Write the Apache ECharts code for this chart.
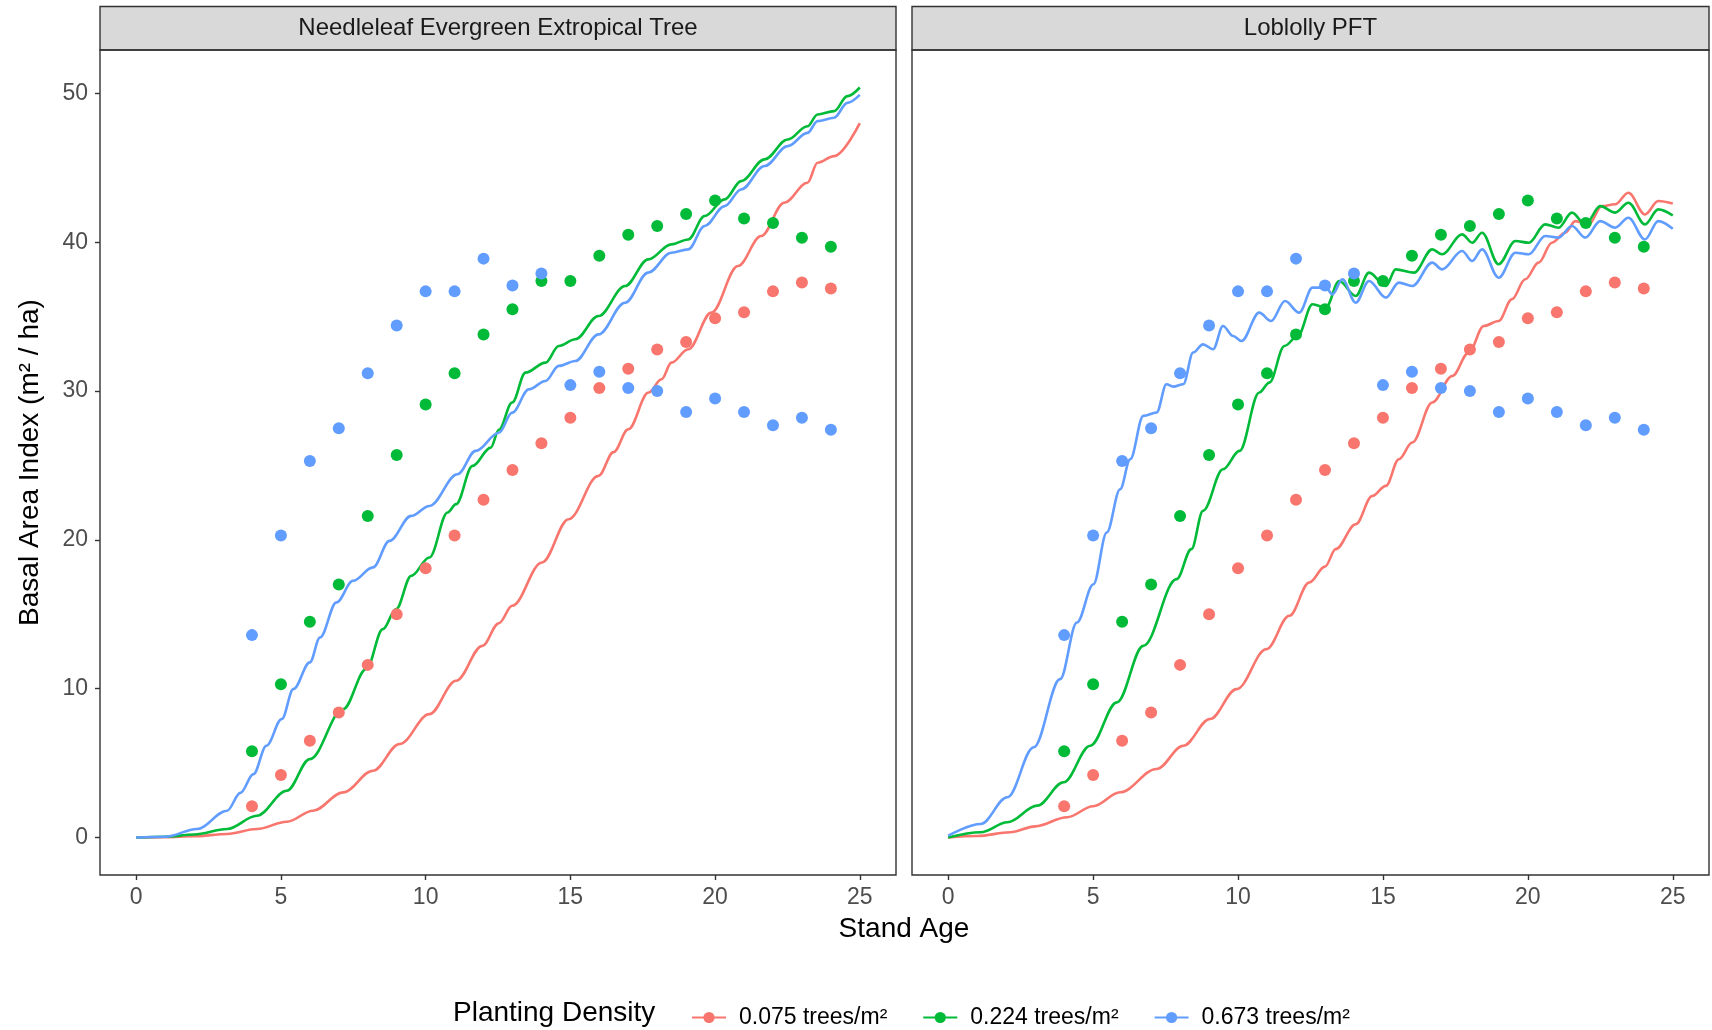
<!DOCTYPE html>
<html><head><meta charset="utf-8">
<script src="https://cdn.jsdelivr.net/npm/echarts@6/dist/echarts.min.js"></script>
<style>html,body{margin:0;padding:0;background:#fff}#c{width:1712px;height:1030px}</style>
</head><body><div id="c"></div>
<script>
const panels = ['Needleleaf Evergreen Extropical Tree', 'Loblolly PFT'];
const densities = ['0.075 trees/m²', '0.224 trees/m²', '0.673 trees/m²'];
const colors = ['#F8766D', '#00BA38', '#619CFF'];
const xTicks = [0, 5, 10, 15, 20, 25];
const yTicks = [0, 10, 20, 30, 40, 50];

// observed points (same in both panels)
const obsAge = [4,5,6,7,8,9,10,11,12,13,14,15,16,17,18,19,20,21,22,23,24];
const obs075 = [2.1,4.2,6.5,8.4,11.6,15.0,18.1,20.3,22.7,24.7,26.5,28.2,30.2,31.5,32.8,33.3,34.9,35.3,36.7,37.3,36.9];
const obs224 = [5.8,10.3,14.5,17.0,21.6,25.7,29.1,31.2,33.8,35.5,37.4,37.4,39.1,40.5,41.1,41.9,42.8,41.6,41.3,40.3,39.7];
const obs673 = [13.6,20.3,25.3,27.5,31.2,34.4,36.7,36.7,38.9,37.1,37.9,30.4,31.3,30.2,30.0,28.6,29.5,28.6,27.7,28.2,27.4];

// model: Needleleaf Evergreen Extropical Tree
const neAge075 = [0,1,2,3.14,4.17,5.2,6.11,7.15,8.18,9.1,10.13,11.05,11.96,12.53,12.99,14.02,14.94,15.97,16.49,17.0,17.7,18.15,18.49,19.07,19.87,20.79,21.59,22.39,23.19,23.54,24.11,25];
const neVal075 = [0,0.02,0.08,0.24,0.57,1.06,1.8,3.03,4.49,6.28,8.29,10.53,12.88,14.4,15.57,18.48,21.39,24.3,25.9,27.43,29.9,30.79,31.91,32.81,35.27,38.4,40.42,42.66,44.0,45.34,45.79,48.0];
const neAge224 = [0,1,2,3.14,4.17,5.2,6.0,7.15,7.95,8.52,8.98,9.5,10.13,10.76,11.05,11.62,12.25,12.53,12.99,13.45,14.14,14.6,15.17,15.97,16.89,17.69,18.49,19.07,19.64,20.33,20.9,21.71,22.51,23.19,23.54,24.11,24.57,25];
const neVal224 = [0,0.05,0.2,0.57,1.46,3.14,5.27,8.63,11.32,14.0,15.35,17.58,18.82,21.84,22.4,24.97,26.2,27.4,29.23,31.24,31.91,33.03,33.48,35.04,37.06,38.85,39.86,40.19,41.76,42.88,44.11,45.57,46.91,47.8,48.59,48.81,49.82,50.4];
const neAge673 = [0,1,2.1,3.14,3.6,4.05,4.5,5.03,5.43,6.0,6.35,6.92,7.49,8.18,8.75,9.5,10.13,11.1,11.73,12.53,12.99,13.57,14.14,14.6,15.17,15.97,16.89,17.69,18.49,19.07,19.64,20.33,20.9,21.71,22.51,23.19,23.54,24.11,24.57,25];
const neVal673 = [0,0.05,0.57,1.8,3.0,4.26,6.17,7.96,9.97,11.77,13.44,15.8,17.25,18.15,19.93,21.61,22.28,24.41,25.98,27.2,28.55,30.12,30.68,31.69,32.02,33.81,35.94,37.96,39.3,39.52,41.09,42.43,43.55,45.12,46.46,47.35,48.14,48.37,49.37,49.9];

// model: Loblolly PFT
const lpAge075 = [0,1,2.14,3,4.1,5,5.93,7.19,8.11,9.03,9.95,10.98,11.77,12.46,13.0,13.37,14.06,14.63,15.1,15.55,16.01,16.7,17.39,17.96,18.48,18.99,19.45,19.91,20.37,20.83,21.29,21.64,22.1,22.55,23.01,23.47,24.04,24.5,25];
const lpVal075 = [0,0.1,0.35,0.75,1.36,2.1,3.04,4.6,6.17,7.96,9.97,12.66,14.9,17.14,18.2,19.38,21.05,22.95,23.63,25.42,26.54,29.23,31.01,32.59,34.37,34.71,36.17,37.51,38.63,39.97,40.64,41.42,41.2,42.43,42.55,43.33,41.87,42.77,42.6];
const lpAge224 = [0,1.12,2.04,3.07,3.98,4.9,5.82,6.73,7.88,8.39,8.79,9.48,10.05,10.73,11.08,11.6,12.06,12.57,13.03,13.49,14.06,14.52,15.1,15.44,16.07,16.7,17.04,17.73,18.08,18.42,18.99,19.57,20.03,20.6,21.06,21.52,21.98,22.5,23.01,23.47,24.04,24.5,25];
const lpVal224 = [0,0.35,1.02,2.14,3.71,6.17,9.08,12.88,17.36,19.38,21.95,24.75,25.98,29.9,30.57,33.03,33.7,35.83,35.61,37.4,36.39,37.96,37.06,38.18,37.96,39.52,39.19,40.53,39.97,40.64,38.52,40.08,39.97,41.2,40.98,41.99,41.2,42.43,41.99,42.66,41.2,42.21,41.8];
const lpAge673 = [0,1.12,2.04,2.95,3.86,4.44,5.01,5.47,5.93,6.28,6.73,7.19,7.53,7.76,8.11,8.45,8.79,9.14,9.48,9.83,10.12,10.73,11.14,11.62,12.11,12.57,13.03,13.26,13.6,14.06,14.52,15.1,15.55,16.01,16.7,17.04,17.73,18.08,18.42,18.99,19.57,20.03,20.6,21.06,21.52,21.98,22.5,23.01,23.47,24.04,24.5,25];
const lpVal673 = [0.12,0.91,2.7,6.06,10.64,14.45,17.02,20.5,23.4,25.42,28.33,28.56,30.46,30.3,30.46,32.59,33.14,32.81,34.37,33.7,33.36,35.27,34.71,36.05,35.27,36.95,36.95,36.5,37.51,35.94,37.4,36.28,37.29,37.06,38.63,38.18,39.41,38.74,39.52,37.62,39.3,39.19,40.42,40.31,41.09,40.31,41.42,40.98,41.65,40.19,41.42,40.9];

const zip = (a, b) => a.map((v, i) => [v, b[i]]);
const FONT = '"Liberation Sans", Arial, Helvetica, sans-serif';

const modelSets = [
  [[neAge075, neVal075], [neAge224, neVal224], [neAge673, neVal673]],
  [[lpAge075, lpVal075], [lpAge224, lpVal224], [lpAge673, lpVal673]]
];
const obsSets = [obs075, obs224, obs673];

const series = [];
for (let p = 0; p < 2; p++) {
  for (let k = 0; k < 3; k++) {
    series.push({
      name: densities[k], type: 'line', xAxisIndex: p, yAxisIndex: p,
      data: zip(modelSets[p][k][0], modelSets[p][k][1]),
      smooth: 0.35, smoothMonotone: 'x', showSymbol: false, symbol: 'circle', symbolSize: 12,
      lineStyle: { color: colors[k], width: 2.6 }, itemStyle: { color: colors[k] },
      z: 2, silent: true, animation: false
    });
  }
}
for (let p = 0; p < 2; p++) {
  for (let k = 0; k < 3; k++) {
    series.push({
      name: densities[k], type: 'scatter', xAxisIndex: p, yAxisIndex: p,
      data: zip(obsAge, obsSets[k]), symbol: 'circle', symbolSize: 12,
      itemStyle: { color: colors[k], opacity: 1 }, z: 3, silent: true, animation: false
    });
  }
}

const grids = [
  { left: 100, top: 50, width: 796, height: 825 },
  { left: 912, top: 50, width: 797, height: 825 }
];
const xAxes = grids.map((g, i) => ({
  type: 'value', gridIndex: i, min: -1.25, max: 26.25, position: 'bottom',
  axisLine: { show: false, onZero: false },
  axisTick: { show: true, inside: false, length: 5, customValues: xTicks, lineStyle: { color: '#333333', width: 1.4 } },
  axisLabel: { customValues: xTicks, color: '#4D4D4D', fontSize: 23, fontFamily: FONT, margin: 11 },
  splitLine: { show: false }
}));
const yAxes = grids.map((g, i) => ({
  type: 'value', gridIndex: i, min: -2.52, max: 52.92, position: 'left',
  axisLine: { show: false, onZero: false },
  axisTick: { show: i === 0, inside: false, length: 5, customValues: yTicks, lineStyle: { color: '#333333', width: 1.4 } },
  axisLabel: { show: i === 0, customValues: yTicks, color: '#4D4D4D', fontSize: 23, fontFamily: FONT, margin: 12 },
  splitLine: { show: false },
  name: i === 0 ? 'Basal Area Index (m² / ha)' : '',
  nameLocation: 'middle', nameRotate: 90, nameGap: 56,
  nameTextStyle: { color: '#000', fontSize: 28, fontFamily: FONT }
}));

const graphic = [];
grids.forEach((g, i) => {
  graphic.push({ type: 'rect', shape: { x: g.left, y: 6.5, width: g.width, height: 43.5 },
    style: { fill: '#D9D9D9', stroke: '#333333', lineWidth: 1.4 }, z: 10 });
  graphic.push({ type: 'text', x: g.left + g.width / 2, y: 28.5,
    style: { text: panels[i], fill: '#1A1A1A', font: '24px ' + FONT, align: 'center', verticalAlign: 'middle' }, z: 11 });
  graphic.push({ type: 'rect', shape: { x: g.left, y: g.top, width: g.width, height: g.height },
    style: { fill: 'none', stroke: '#333333', lineWidth: 1.4 }, z: 10, silent: true });
});
graphic.push({ type: 'text', x: 904, y: 929,
  style: { text: 'Stand Age', fill: '#000', font: '28px ' + FONT, align: 'center', verticalAlign: 'middle' } });
graphic.push({ type: 'text', x: 453, y: 1013,
  style: { text: 'Planting Density', fill: '#000', font: '28px ' + FONT, align: 'left', verticalAlign: 'middle' } });

const chart = echarts.init(document.getElementById('c'), null, { renderer: 'canvas' });
chart.setOption({
  backgroundColor: '#ffffff',
  animation: false,
  grid: grids,
  xAxis: xAxes,
  yAxis: yAxes,
  legend: {
    data: densities,
    left: 686, top: 1001, orient: 'horizontal',
    itemWidth: 34, itemHeight: 14, itemGap: 35,
    itemStyle: { opacity: 1 },
    formatter: '{t|{name}}',
    textStyle: { color: '#000', fontSize: 23, fontFamily: FONT,
      rich: { t: { color: '#000', fontSize: 23, fontFamily: FONT, padding: [0, 0, 0, 8] } } },
    selectedMode: false
  },
  graphic: graphic,
  series: series
});
</script></body></html>
